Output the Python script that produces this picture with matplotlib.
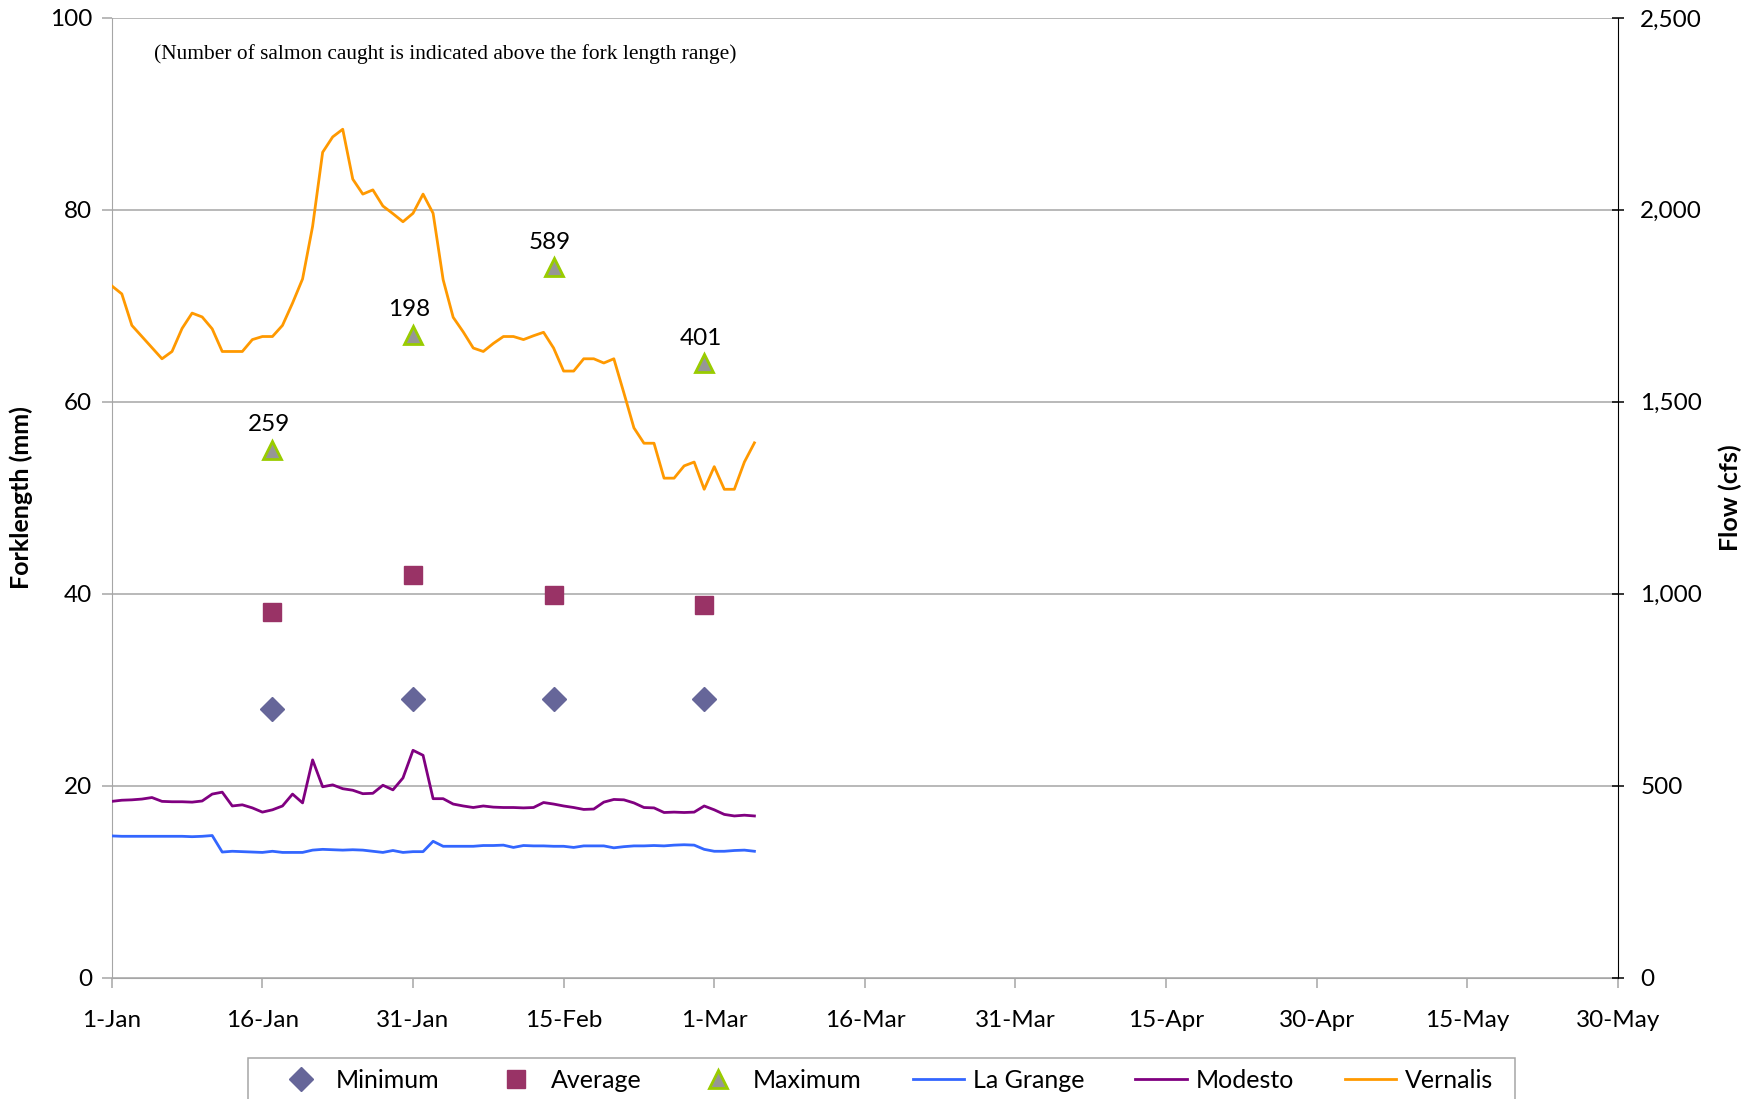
import matplotlib
matplotlib.use("Agg")
import matplotlib.pyplot as plt
import matplotlib.patches as mpatches
import pandas as pd

plt.rcParams['font.family'] = ['Lato', 'DejaVu Sans']

# daily flow (cfs), starting 1-Jan-2008
flow_start = "2008-01-01"
la_grange = [369, 368, 368, 368, 368, 368, 368, 368, 367, 368,
             370, 327, 329, 328, 327, 326, 329, 326, 326, 326,
             332, 334, 333, 332, 333, 332, 329, 326, 331, 326,
             328, 328, 355, 342, 342, 342, 342, 344, 344, 345,
             339, 344, 343, 343, 342, 342, 339, 343, 343, 343,
             338, 341, 343, 343, 344, 343, 345, 346, 345, 334,
             329, 329, 331, 332, 329]
modesto = [459, 462, 463, 465, 469, 459, 458, 458, 457, 460,
           478, 483, 447, 450, 442, 431, 437, 447, 478, 455,
           567, 497, 502, 492, 488, 479, 480, 501, 489, 520,
           592, 579, 466, 466, 452, 447, 443, 447, 444, 443,
           443, 442, 443, 456, 452, 447, 443, 438, 439, 457,
           464, 463, 455, 443, 442, 430, 431, 430, 431, 447,
           437, 425, 421, 423, 421]
vernalis = [1802, 1781, 1699, 1670, 1641, 1612, 1631, 1691, 1731, 1721,
            1690, 1631, 1631, 1631, 1662, 1670, 1670, 1699, 1757, 1820,
            1957, 2150, 2190, 2210, 2080, 2041, 2052, 2010, 1990, 1969,
            1991, 2041, 1991, 1818, 1720, 1682, 1640, 1631, 1652, 1670,
            1670, 1662, 1672, 1681, 1640, 1580, 1580, 1612, 1612, 1601,
            1612, 1523, 1432, 1392, 1392, 1301, 1301, 1333, 1343, 1272,
            1331, 1272, 1272, 1343, 1393]

# fork length samples (mm)
sample_dates = ["2008-01-17", "2008-01-31", "2008-02-14", "2008-02-29"]
fl_min = [28, 29, 29, 29]
fl_avg = [38.1, 41.9, 39.9, 38.8]
fl_max = [55, 67, 74, 64]
n_caught = ["259", "198", "589", "401"]

tick_dates = ["2008-01-01", "2008-01-16", "2008-01-31", "2008-02-15", "2008-03-01",
              "2008-03-16", "2008-03-31", "2008-04-15", "2008-04-30", "2008-05-15",
              "2008-05-30"]
tick_labels = ["1-Jan", "16-Jan", "31-Jan", "15-Feb", "1-Mar", "16-Mar", "31-Mar",
               "15-Apr", "30-Apr", "15-May", "30-May"]

days = pd.date_range(flow_start, periods=len(vernalis), freq="D")
sdates = pd.to_datetime(sample_dates)

fig = plt.figure(figsize=(17.52, 10.99), dpi=100)
ax = fig.add_axes([0.0638, 0.1105, 0.8597, 0.8732])
ax2 = ax.twinx()

grid_c = "#A6A6A6"
fs = 17.5
ax.set_ylim(0, 100)
ax.set_yticks(range(0, 101, 20))
ax2.set_ylim(0, 2500)
ax2.set_yticks(range(0, 2501, 500))
ax2.yaxis.set_major_formatter(matplotlib.ticker.FuncFormatter(lambda v, p: f"{int(v):,}"))
ax.yaxis.grid(True, color=grid_c, lw=1.1)
ax.set_axisbelow(True)

ax.set_xlim(pd.Timestamp("2008-01-01"), pd.Timestamp("2008-05-30"))
ax.set_xticks(pd.to_datetime(tick_dates))
ax.set_xticklabels(tick_labels)

for a in (ax, ax2):
    a.spines['top'].set_visible(False)
ax.spines['left'].set_color(grid_c)
ax.spines['bottom'].set_color(grid_c)
ax.spines['right'].set_visible(False)
ax2.spines['left'].set_visible(False)
ax2.spines['bottom'].set_visible(False)
ax2.spines['right'].set_color("black")

ax.tick_params(axis='both', labelsize=fs, color=grid_c, length=7, width=1.1)
ax.tick_params(axis='y', pad=7)
ax.tick_params(axis='x', pad=16)
ax2.tick_params(axis='y', labelsize=fs, color="black", length=8, width=1.1,
                direction='inout', pad=12)

ax.set_ylabel("Forklength (mm)", fontsize=18, fontweight='bold', labelpad=12)
ax2.set_ylabel("Flow (cfs)", fontsize=18, fontweight='bold', labelpad=12)

h_lg, = ax2.plot(days, la_grange, color="#3366FF", lw=2.0, label="La Grange")
h_mo, = ax2.plot(days, modesto, color="#800080", lw=2.0, label="Modesto")
h_ve, = ax2.plot(days, vernalis, color="#FF9900", lw=2.0, label="Vernalis")

h_min, = ax2.plot(sdates, [v * 25 for v in fl_min], ls='none', marker='D', ms=12.5,
                  color="#666699", label="Minimum")
h_avg, = ax2.plot(sdates, [v * 25 for v in fl_avg], ls='none', marker='s', ms=12.5,
                  color="#993366", label="Average")
h_max, = ax2.plot(sdates, [v * 25 for v in fl_max], ls='none', marker='^', ms=13,
                  mfc="#969696", mec="#99CC00", mew=2, label="Maximum")

for d, v, n in zip(sdates, fl_max, n_caught):
    ax.annotate(n, (d, v), xytext=(-2.5, 18), textcoords='offset points',
                ha='center', va='center', fontsize=fs)

ax.text(0.0282, 0.9628, "(Number of salmon caught is indicated above the fork length range)",
        transform=ax.transAxes, fontsize=15.4, family='Liberation Serif', va='center')

leg = fig.legend([h_min, h_avg, h_max, h_lg, h_mo, h_ve],
                 ["Minimum", "Average", "Maximum", "La Grange", "Modesto", "Vernalis"],
                 loc='center', bbox_to_anchor=(0.5048, 0.0169), ncol=6,
                 fontsize=18, frameon=False, handlelength=2.05,
                 columnspacing=2.05, handletextpad=0.35, borderpad=0.0)
fig.patches.append(mpatches.Rectangle((0.1416, -0.05), 0.8648 - 0.1416, 0.0373 + 0.05,
                                      transform=fig.transFigure, fill=False,
                                      edgecolor=grid_c, lw=1.1))

fig.savefig("out.png", dpi=100)
